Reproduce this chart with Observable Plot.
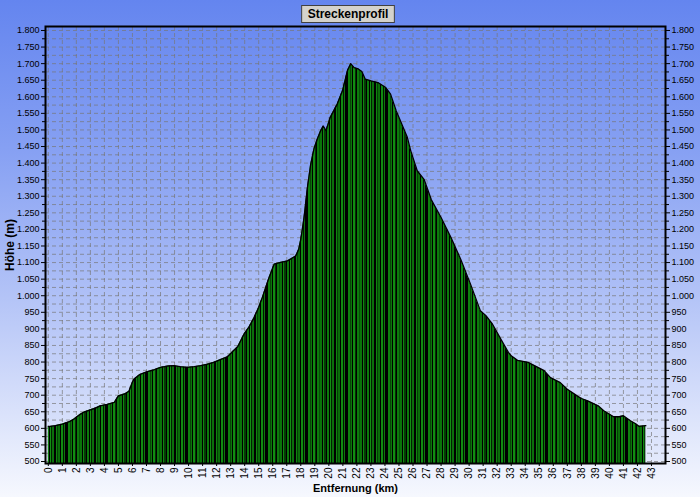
<!DOCTYPE html>
<html><head><meta charset="utf-8">
<script src="https://cdn.jsdelivr.net/npm/d3@7"></script>
<script src="https://cdn.jsdelivr.net/npm/@observablehq/plot@0.6"></script>
<style>
html,body{margin:0;padding:0;}
#chart{width:700px;height:497px;position:relative;
background:linear-gradient(to bottom,#6485ef 0%,#86a0f3 30%,#b4c4f7 60%,#f6f8fe 100%);}
#chart svg{display:block;}
</style></head><body><div id="chart"></div>
<script>
// Distance (km) and elevation (m)
const km = [0.0,0.5,1.0,1.5,1.83,2.3,2.6,3.0,3.4,3.7,4.2,4.7,5.0,5.5,5.75,6.0,6.1,6.5,7.06,7.5,8.0,8.5,8.96,9.4,9.9,10.4,10.86,11.3,11.8,12.3,12.77,13.2,13.5,13.95,14.3,14.67,15.0,15.26,15.5,15.74,16.1,16.5,17.05,17.64,17.85,18.0,18.23,18.47,18.7,18.95,19.2,19.42,19.6,19.8,20.1,20.6,20.97,21.33,21.56,21.8,22.1,22.35,22.6,23.0,23.5,24.06,24.4,24.8,25.1,25.6,25.84,26.3,26.8,27.3,28.0,28.7,29.4,30.1,30.8,31.2,31.67,32.3,32.8,33.0,33.45,34.2,34.9,35.35,35.8,36.5,37.0,37.7,38.0,38.45,39.2,39.6,40.3,40.7,41.0,41.5,41.9,42.1,42.6];
const elev = [605,608,613,620,628,643,650,656,662,668,672,678,698,705,712,740,748,762,771,776,784,788,789,786,784,786,789,793,799,808,816,834,846,884,905,934,965,995,1025,1055,1095,1100,1105,1120,1140,1170,1235,1325,1395,1445,1475,1498,1512,1498,1538,1578,1618,1679,1700,1688,1684,1676,1653,1648,1643,1628,1608,1558,1528,1477,1437,1377,1350,1290,1236,1176,1110,1035,955,940,914,866,829,819,805,799,784,774,753,738,718,698,690,683,668,653,635,635,638,623,613,606,608];
const xTicks = d3.range(0, 44);
const yTicks = d3.range(500, 1801, 50);
const yMinor = d3.range(525, 1800, 50);
const yGrid = d3.range(500, 1801, 25);
const titleText = "Streckenprofil";
const xLabel = "Entfernung (km)";
const yLabel = "Höhe (m)";

const data = km.map((k, i) => ({km: k, elev: elev[i]}));
const fmt = d => d3.format(",")(d).replace(/,/g, ".");
const font = "'Liberation Sans', Arial, sans-serif";

const plot = Plot.plot({
  width: 700, height: 497,
  marginLeft: 45, marginRight: 35, marginTop: 26, marginBottom: 34,
  style: {background: "transparent", fontFamily: font, fontSize: "9px", color: "#000", overflow: "visible"},
  x: {domain: [-0.2, 44], label: null},
  y: {domain: [494, 1812], label: null},
  marks: [
    Plot.frame({fill: "url(#plotBg)"}),
    Plot.gridY(yGrid, {stroke: "#777", strokeOpacity: 0.7, strokeDasharray: "4,3"}),
    Plot.gridX(xTicks, {stroke: "#777", strokeOpacity: 0.7, strokeDasharray: "4,3"}),
    Plot.areaY(data, {x: "km", y: "elev", fill: "url(#stripes)", clip: true}),
    Plot.lineY(data, {x: "km", y: "elev", stroke: "#000", strokeWidth: 1.3}),
    Plot.axisY(yTicks, {anchor: "left", tickFormat: fmt, tickSize: 4, tickPadding: 2, label: null}),
    Plot.axisY(yMinor, {anchor: "left", tickFormat: () => "", tickSize: 3, label: null}),
    Plot.axisY(yTicks, {anchor: "right", tickFormat: fmt, tickSize: 4, tickPadding: 2, label: null}),
    Plot.axisY(yMinor, {anchor: "right", tickFormat: () => "", tickSize: 3, label: null}),
    Plot.axisX(xTicks, {anchor: "bottom", tickRotate: -90, tickSize: 3, tickPadding: 1, fontSize: 10, label: null}),
    Plot.frame({stroke: "#000", strokeWidth: 2}),
    Plot.text([yLabel], {text: d => d, frameAnchor: "left", dx: -35, rotate: -90, textAnchor: "middle", lineAnchor: "middle", fontWeight: "bold", fontSize: 12}),
    Plot.text([xLabel], {text: d => d, frameAnchor: "bottom", dy: 25, textAnchor: "middle", lineAnchor: "middle", fontWeight: "bold", fontSize: 11})
  ]
});
document.getElementById("chart").appendChild(plot);

const svg = d3.select(plot);
const defs = svg.insert("defs", ":first-child");
const g = defs.append("linearGradient").attr("id", "plotBg").attr("x1", 0).attr("y1", 0).attr("x2", 0).attr("y2", 1);
g.append("stop").attr("offset", "0%").attr("stop-color", "#6a8af0");
g.append("stop").attr("offset", "45%").attr("stop-color", "#98aef4");
g.append("stop").attr("offset", "100%").attr("stop-color", "#e4eafc");

const stripes = [[2,"#0a740a"],[1,"#000"],[1,"#0f880f"],[2,"#053a05"],[1,"#000"],[2,"#0c7c0c"],[1,"#000"],[1,"#138e13"],[1,"#022002"],[2,"#0b700b"],[2,"#000"],[1,"#0f840f"],[1,"#054205"],[2,"#0a6c0a"],[1,"#000"],[2,"#118a11"],[1,"#011501"],[1,"#0c780c"],[3,"#000"],[2,"#0e820e"],[1,"#064806"],[1,"#0b740b"],[1,"#000"],[2,"#128c12"],[1,"#033003"],[1,"#000"],[2,"#0d7a0d"],[1,"#075207"]];
const pw = d3.sum(stripes, s => s[0]);
const pat = defs.append("pattern").attr("id", "stripes").attr("patternUnits", "userSpaceOnUse").attr("width", pw).attr("height", 10);
let px = 0;
for (const [w, c] of stripes) { pat.append("rect").attr("x", px).attr("y", 0).attr("width", w).attr("height", 10).attr("fill", c); px += w; }

// title box
const tg = svg.append("g");
const tt = tg.append("text").attr("x", 348).attr("y", 14).attr("text-anchor", "middle").attr("dominant-baseline", "central")
  .attr("font-family", font).attr("font-weight", "bold").attr("font-size", 12).attr("fill", "#000").text(titleText);
const bb = tt.node().getBBox();
tg.insert("rect", "text").attr("x", bb.x - 6).attr("y", 5.5).attr("width", bb.width + 12).attr("height", 17)
  .attr("fill", "#d4d2cc").attr("stroke", "#404040").attr("stroke-width", 1);
</script></body></html>
